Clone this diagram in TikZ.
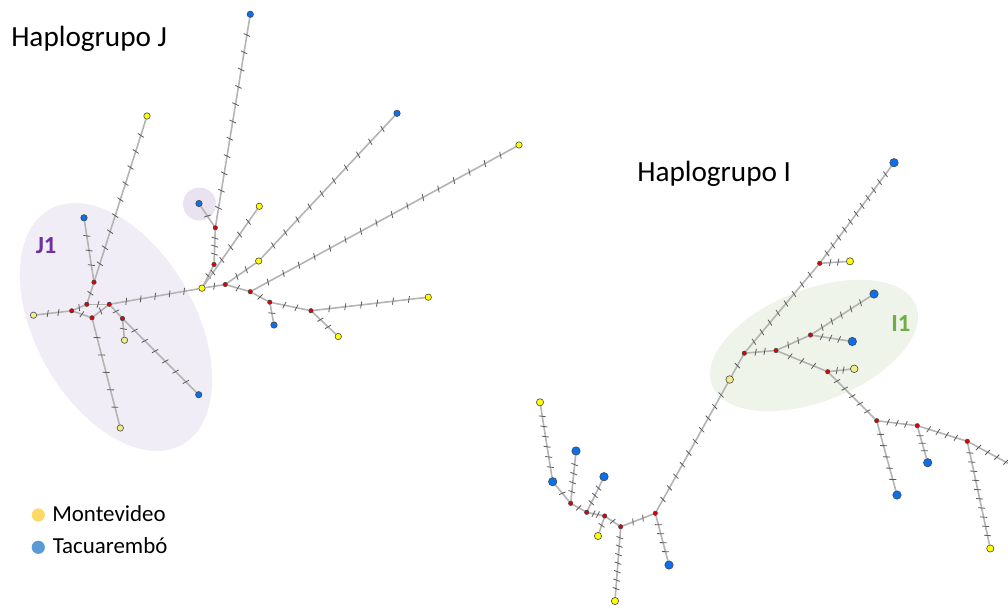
\documentclass[tikz,border=0pt]{standalone}
\usepackage{fontspec}
\setmainfont{Carlito}
\usetikzlibrary{decorations.markings}
\pgfdeclarelayer{shade}
\pgfdeclarelayer{links}
\pgfsetlayers{shade,links,main}

\definecolor{hapYellow}{RGB}{255,255,0}
\definecolor{hapPale}{RGB}{240,237,135}
\definecolor{hapBlue}{RGB}{10,112,235}
\definecolor{hapRed}{RGB}{228,0,0}
\definecolor{hapEdge}{RGB}{70,70,70}
\definecolor{linkGray}{RGB}{180,180,180}
\definecolor{tickGray}{RGB}{90,90,90}
\definecolor{lavender}{RGB}{241,237,246}
\definecolor{lavenderDeep}{RGB}{233,227,241}
\definecolor{paleGreen}{RGB}{238,244,233}
\definecolor{groupPurple}{RGB}{112,48,160}
\definecolor{groupGreen}{RGB}{112,173,71}
\definecolor{legYellow}{RGB}{255,217,102}
\definecolor{legBlue}{RGB}{91,155,213}

\begin{document}
\begin{tikzpicture}[x=0.25mm,y=-0.25mm,
  hap/.style={circle, draw=hapEdge, line width=0.15mm, inner sep=0pt},
  hapR/.style={hap, fill=hapRed, minimum size=1.1mm},
  hapY/.style={hap, fill=hapYellow, minimum size=1.6mm},
  hapP/.style={hap, fill=hapPale, minimum size=1.6mm},
  hapB/.style={hap, fill=hapBlue, minimum size=1.6mm},
  hapYL/.style={hap, fill=hapYellow, minimum size=1.8mm},
  hapPL/.style={hap, fill=hapPale, minimum size=1.9mm},
  hapBL/.style={hap, fill=hapBlue, minimum size=2.1mm},
  link/.style={draw=linkGray, line width=0.4mm},
  tickmark/.style={draw=tickGray, line width=0.2mm},
  mut/.style={postaction={decorate, decoration={markings,
    mark=between positions 1/(#1+1) and (#1+0.5)/(#1+1) step 1/(#1+1) with
    {\draw[tickmark] (-0.7pt,-2.4pt) -- (0.7pt,2.4pt);}}}},
  title/.style={anchor=base west, inner sep=0pt, font=\fontsize{20.8}{24}\selectfont},
  legtext/.style={anchor=base west, inner sep=0pt, font=\fontsize{16.3}{19}\selectfont},
  grouplabel/.style={anchor=base west, inner sep=0pt, font=\fontsize{17.5}{20}\selectfont\bfseries},
  legdot/.style={circle, inner sep=0pt, minimum size=3.3mm}
]
\useasboundingbox (0,0) rectangle (1008,608);
\clip (0,0) rectangle (1008,608);

% ---------- shaded groups ----------
\begin{pgfonlayer}{shade}
  \fill[lavender, rotate around={-60.6:(116,327)}] (116,327) ellipse [x radius=135, y radius=80];
  \fill[lavenderDeep] (199.5,204) circle [radius=16.5];
  \fill[paleGreen, rotate around={21.4:(814,345.5)}] (814,345.5) ellipse [x radius=109.5, y radius=56];
\end{pgfonlayer}

% ---------- titles and legend ----------
\node[title] (titleJ) at (11,46.7) {Haplogrupo J};
\node[title] (titleI) at (637,181) {Haplogrupo I};
\node[grouplabel, text=groupPurple] (labJ1) at (35.5,253.3) {J1};
\node[grouplabel, text=groupGreen] (labI1) at (891,331.7) {I1};
\node[legdot, fill=legYellow] (legY) at (38.3,515) {};
\node[legdot, fill=legBlue] (legB) at (38.3,547.3) {};
\node[legtext] (legYt) at (52,521.7) {Montevideo};
\node[legtext] (legBt) at (52.5,553.3) {Tacuarembó};

% ---------- haplogroup J network ----------
\node[hapB] (jB1) at (250.3,14.3) {};
\node[hapB] (jB2) at (199,203.5) {};
\node[hapR] (jR1) at (215.3,227.7) {};
\node[hapR] (jR2) at (214,264.5) {};
\node[hapY] (jY1) at (202,288.2) {};
\node[hapY] (jY2) at (259.3,206.3) {};
\node[hapY] (jY3) at (258.7,261) {};
\node[hapB] (jB3) at (397,113.3) {};
\node[hapR] (jR3) at (225.3,284.5) {};
\node[hapR] (jR4) at (250.3,291.7) {};
\node[hapY] (jY4) at (519,145) {};
\node[hapR] (jR5) at (269.8,302.2) {};
\node[hapB] (jB4) at (274,325) {};
\node[hapR] (jR6) at (311,310.7) {};
\node[hapY] (jY5) at (428.3,297.2) {};
\node[hapY] (jY6) at (338.3,336.5) {};
\node[hapR] (jR7) at (109.3,304.3) {};
\node[hapR] (jR8) at (86.8,304.3) {};
\node[hapR] (jR9) at (94,282.2) {};
\node[hapB] (jB5) at (84,217.8) {};
\node[hapY] (jY7) at (147,116) {};
\node[hapR] (jR10) at (71.7,310.8) {};
\node[hapP] (jY8) at (33.5,315.2) {};
\node[hapR] (jR11) at (92,317.8) {};
\node[hapP] (jY9) at (120.3,428) {};
\node[hapR] (jR12) at (122.5,318.5) {};
\node[hapB] (jB6) at (198.7,394.7) {};
\node[hapP] (jY10) at (124.5,340.2) {};

% ---------- haplogroup I network ----------
\node[hapBL] (iB1) at (894,162.7) {};
\node[hapR] (iR1) at (819.7,263.3) {};
\node[hapYL] (iY1) at (850,261.3) {};
\node[hapBL] (iB2) at (874,294) {};
\node[hapR] (iR2) at (744.3,353.2) {};
\node[hapR] (iR3) at (776,350.5) {};
\node[hapR] (iR4) at (810.5,335) {};
\node[hapBL] (iB3) at (852.3,341.5) {};
\node[hapR] (iR5) at (827.7,371.7) {};
\node[hapPL] (iY2) at (854.2,368.8) {};
\node[hapPL] (iY3) at (729.7,379.5) {};
\node[hapR] (iR6) at (876.7,420.7) {};
\node[hapR] (iR7) at (917.3,425.7) {};
\node[hapR] (iR8) at (967.3,441.3) {};
\node[hapBL] (iB4) at (897,495) {};
\node[hapBL] (iB5) at (927.7,462.7) {};
\node[hapYL] (iY4) at (990.3,548.5) {};
\node[hapYL] (iY5) at (540,402.3) {};
\node[hapBL] (iB6) at (552.7,481.7) {};
\node[hapBL] (iB7) at (576,451) {};
\node[hapBL] (iB8) at (604,476.7) {};
\node[hapR] (iR9) at (570.7,503.3) {};
\node[hapR] (iR10) at (586.7,512.3) {};
\node[hapR] (iR11) at (604.7,516) {};
\node[hapYL] (iY6) at (598,536) {};
\node[hapR] (iR12) at (620.7,526.7) {};
\node[hapYL] (iY7) at (615,601) {};
\node[hapR] (iR13) at (655.3,513.3) {};
\node[hapBL] (iB9) at (669,565) {};
\coordinate (iExit) at (1015,467);

% ---------- links with mutation ticks ----------
\begin{pgfonlayer}{links}
\foreach \a/\b/\n in {
  jB1/jR1/11, jB2/jR1/1, jR1/jR2/3, jR2/jY1/1, jY2/jY1/5,
  jY3/jR3/2, jY3/jB3/10, jY1/jR3/1, jR3/jR4/1, jR4/jY4/16,
  jR4/jR5/1, jR5/jR6/2, jR5/jB4/1, jR6/jY5/6, jR6/jY6/2,
  jY1/jR7/5, jR7/jR8/1, jR8/jR9/1, jR9/jB5/3, jR9/jY7/9,
  jR8/jR10/1, jR10/jY8/2, jR10/jR11/1, jR11/jR7/1, jR11/jY9/5,
  jR7/jR12/1, jR12/jB6/6, jR12/jY10/1,
  iY3/iR2/1, iR2/iR1/8, iR1/iB1/11, iR1/iY1/2, iR2/iR3/2,
  iR3/iR4/2, iR4/iB2/5, iR4/iB3/3, iR3/iR5/3, iR5/iY2/2,
  iR5/iR6/5, iR6/iR7/3, iR7/iR8/4, iR8/iExit/4, iR6/iB4/5,
  iR7/iB5/3, iR8/iY4/10,
  iY5/iB6/6, iB6/iR9/1, iR9/iB7/4, iR9/iR10/1, iR10/iB8/3,
  iR10/iR11/2, iR11/iY6/1, iR11/iR12/1, iR12/iY7/7, iR12/iR13/2,
  iR13/iB9/4, iR13/iY3/10}
  {\draw[link, mut=\n] (\a) -- (\b);}
\end{pgfonlayer}
\end{tikzpicture}
\end{document}
